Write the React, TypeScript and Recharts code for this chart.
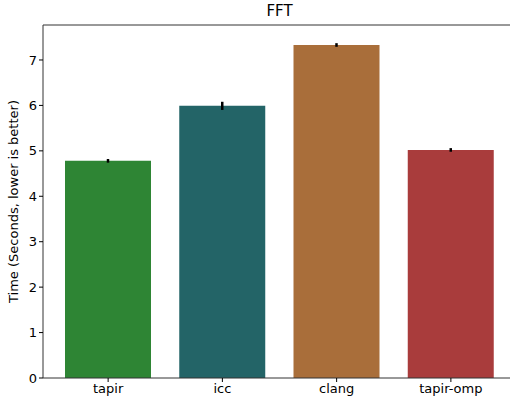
import { BarChart, Bar, XAxis, YAxis, ErrorBar, Cell, ReferenceLine, Label } from 'recharts';

const compilers = ['tapir', 'icc', 'clang', 'tapir-omp'];
const times = [4.78, 5.99, 7.33, 5.02];
const errors = [0.04, 0.09, 0.04, 0.04];
const colors = ['#2e8534', '#236467', '#a96e3a', '#a93c3c'];
const yTicks = [0, 1, 2, 3, 4, 5, 6, 7];
const yMax = 7.77;

const data = compilers.map((name, i) => ({ name, time: times[i], err: errors[i] }));

const tickStyle = { fill: '#000', fontSize: 13, fontFamily: 'DejaVu Sans' };

export default function App() {
  return (
    <div style={{ position: 'absolute', left: 0, top: 0, width: 510, height: 401, overflow: 'hidden', background: '#fff' }}>
      <div style={{ position: 'absolute', left: 43, top: 2, width: 473, textAlign: 'center', fontFamily: 'DejaVu Sans', fontSize: 15 }}>
        FFT
      </div>
      <BarChart
        width={520}
        height={401}
        data={data}
        margin={{ top: 25, right: 4, left: 0, bottom: 0 }}
        style={{ overflow: 'hidden' }}
      >
        <XAxis
          dataKey="name"
          padding={{ left: 8, right: 8 }}
          tick={tickStyle}
          tickSize={4}
          stroke="#000"
          tickLine={{ stroke: '#000' }}
          axisLine={{ stroke: '#333', strokeWidth: 1 }}
          height={23}
        />
        <YAxis
          domain={[0, yMax]}
          ticks={yTicks}
          tick={tickStyle}
          tickSize={4}
          width={43}
          stroke="#000"
          axisLine={{ stroke: '#333', strokeWidth: 1 }}
        >
          <Label
            value="Time (Seconds, lower is better)"
            angle={-90}
            position="insideLeft"
            offset={0}
            style={{ textAnchor: 'middle', fill: '#000', fontSize: 13, fontFamily: 'DejaVu Sans' }}
            dx={13}
          />
        </YAxis>
        <ReferenceLine y={yMax} stroke="#333" strokeWidth={1} />
        <Bar dataKey="time" barSize={86} isAnimationActive={false}>
          {data.map((d, i) => (
            <Cell key={d.name} fill={colors[i]} />
          ))}
          <ErrorBar dataKey="err" width={0} stroke="#000" strokeWidth={2.5} />
        </Bar>
      </BarChart>
    </div>
  );
}
